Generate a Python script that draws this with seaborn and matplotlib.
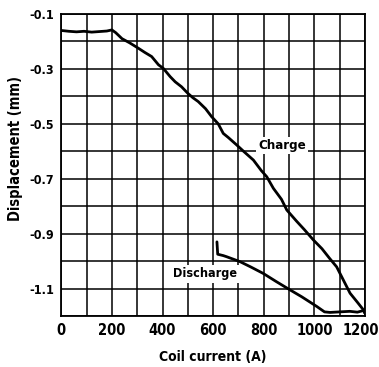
import matplotlib
matplotlib.use("Agg")
import matplotlib.pyplot as plt
import matplotlib.transforms as mtransforms
import seaborn as sns
import pandas as pd

charge_current = [0, 30, 60, 90, 120, 150, 180, 200, 215, 240, 270, 305, 330, 357, 384, 403,
                  430, 450, 475, 500, 520, 541, 570, 594, 620, 640, 660, 693, 720, 759, 790,
                  812, 838, 870, 891, 930, 960, 996, 1030, 1060, 1088, 1115, 1141, 1170, 1194, 1200]
charge_disp = [-0.160, -0.163, -0.165, -0.163, -0.166, -0.164, -0.162, -0.158, -0.168, -0.190,
               -0.205, -0.225, -0.240, -0.255, -0.285, -0.298, -0.328, -0.347, -0.365, -0.389,
               -0.405, -0.419, -0.445, -0.474, -0.500, -0.535, -0.550, -0.577, -0.600, -0.632,
               -0.670, -0.693, -0.735, -0.775, -0.814, -0.855, -0.885, -0.923, -0.955, -0.990,
               -1.021, -1.070, -1.117, -1.150, -1.178, -1.190]

discharge_current = [615, 618, 640, 653, 706, 750, 798, 850, 904, 950, 1009, 1040, 1062,
                     1100, 1140, 1170, 1194, 1200]
discharge_disp = [-0.930, -0.975, -0.980, -0.984, -1.002, -1.022, -1.045, -1.075, -1.105,
                  -1.130, -1.165, -1.185, -1.187, -1.185, -1.183, -1.186, -1.180, -1.190]

x_ticks = [0, 200, 400, 600, 800, 1000, 1200]
y_ticks = [-0.1, -0.3, -0.5, -0.7, -0.9, -1.1]
y_tick_labels = ["-0.1", "-0.3", "-0.5", "-0.7", "-0.9", "-1.1"]

sns.set_style("white")
plt.rcParams["font.family"] = ["DejaVu Sans"]
plt.rcParams["font.stretch"] = "condensed"
plt.rcParams["text.color"] = "black"
plt.rcParams["axes.labelcolor"] = "black"
plt.rcParams["xtick.color"] = "black"
plt.rcParams["ytick.color"] = "black"

fig = plt.figure(figsize=(3.79, 3.67), dpi=100)
ax = fig.add_axes([61.3 / 379, 1 - 316 / 367, 303.7 / 379, 302 / 367])

df_c = pd.DataFrame({"current": charge_current, "disp": charge_disp})
df_d = pd.DataFrame({"current": discharge_current, "disp": discharge_disp})
sns.lineplot(data=df_c, x="current", y="disp", ax=ax, color="black", lw=2.0,
             estimator=None, sort=False, zorder=3)
sns.lineplot(data=df_d, x="current", y="disp", ax=ax, color="black", lw=2.0,
             estimator=None, sort=False, zorder=3)

ax.set_xlim(0, 1200)
ax.set_ylim(-1.2, -0.1)
for gx in range(0, 1201, 100):
    ax.axvline(gx, color="black", lw=1.1, zorder=1)
for i in range(12):
    ax.axhline(-0.1 - 0.1 * i, color="black", lw=1.1, zorder=1)

tick_font = dict(fontweight="bold", fontstretch="condensed")
ax.set_xticks(x_ticks)
ax.set_xticklabels([str(t) for t in x_ticks], fontsize=10.5, **tick_font)
ax.set_yticks(y_ticks)
ax.set_yticklabels(y_tick_labels, fontsize=9, **tick_font)
ax.tick_params(length=0, pad=5)
last = ax.get_xticklabels()[-1]
last.set_transform(last.get_transform() +
                   mtransforms.ScaledTranslation(-4 / 100, 0, fig.dpi_scale_trans))
for s in ax.spines.values():
    s.set_color("black")
    s.set_linewidth(1.3)

ax.set_xlabel("Coil current (A)", fontsize=10, labelpad=9, **tick_font)
ax.set_ylabel("Displacement (mm)", fontsize=10.5, **tick_font)
ax.yaxis.set_label_coords(-0.125, 0.556)

ax.text(873, -0.58, "Charge", fontsize=9.5, ha="center", va="center",
        bbox=dict(facecolor="white", edgecolor="none", pad=1.5), zorder=4, **tick_font)
ax.text(568, -1.047, "Discharge", fontsize=9, ha="center", va="center",
        bbox=dict(facecolor="white", edgecolor="none", pad=1.5), zorder=4, **tick_font)

fig.savefig("out.png", dpi=100)
